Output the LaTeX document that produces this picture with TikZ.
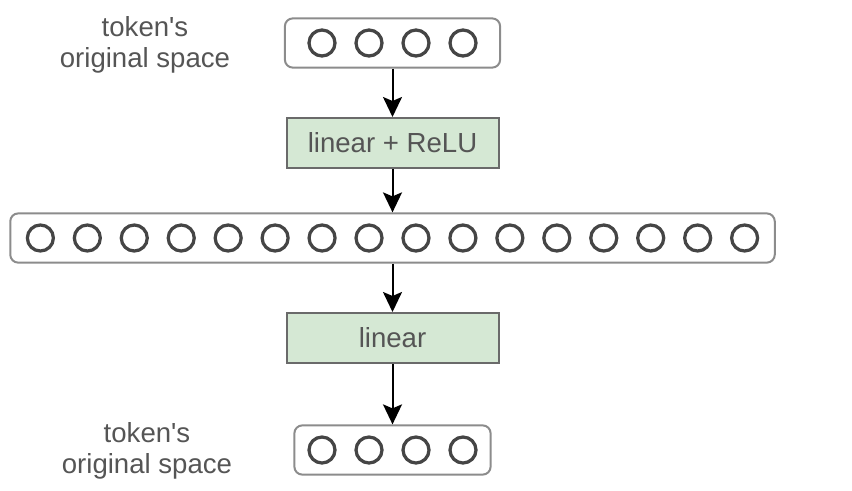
\documentclass[tikz,border=0pt]{standalone}
\usepackage{fontspec}
\setmainfont{Liberation Sans}
\usetikzlibrary{arrows.meta}
\usetikzlibrary{fit}
\usetikzlibrary{matrix}
\usetikzlibrary{positioning}

\definecolor{unitgray}{HTML}{454545}
\definecolor{boxgray}{HTML}{8C8C8C}
\definecolor{opedge}{HTML}{6A6A6A}
\definecolor{opfill}{HTML}{D5E8D4}
\definecolor{labelgray}{HTML}{555555}

\tikzset{
  unit/.style={circle,draw=unitgray,line width=0.065cm,minimum size=0.52cm,inner sep=0pt},
  units/.style={matrix of nodes,nodes={unit},column sep={0.94cm,between origins},anchor=center},
  layer/.style={draw=boxgray,line width=0.04cm,rounded corners=0.16cm,inner ysep=0.2cm},
  op/.style={draw=opedge,fill=opfill,line width=0.04cm,minimum width=4.24cm,minimum height=1cm,text=labelgray},
  spacelab/.style={align=center,text=labelgray},
  flow/.style={draw,line width=0.04cm,-{Stealth[length=0.4cm,width=0.38cm,inset=0.08cm]}},
}

\begin{document}
\begin{tikzpicture}[font=\fontsize{15.7}{17.6}\selectfont]

  \useasboundingbox (0,0) rectangle (17.04,9.8);

  % input tokens
  \matrix [units] at (7.85,8.94) {
    |(in1)| & |(in2)| & |(in3)| & |(in4)| \\
  };
  \node [layer,inner xsep=0.45cm,fit=(in1) (in4)] (inbox) {};
  \node [spacelab] (inlab) at (2.9,8.9) {token\textquotesingle s\\original space};

  \node [op] (relu) at (7.85,6.94) {linear + ReLU};

  % expanded hidden layer
  \matrix [units,column sep={0.939cm,between origins}] at (7.85,5.04) {
    |(h1)| & |(h2)| & |(h3)| & |(h4)| & |(h5)| & |(h6)| & |(h7)| & |(h8)| &
    |(h9)| & |(h10)| & |(h11)| & |(h12)| & |(h13)| & |(h14)| & |(h15)| & |(h16)| \\
  };
  \node [layer,inner xsep=0.31cm,fit=(h1) (h16)] (hidbox) {};

  \node [op] (lin) at (7.85,3.04) {linear};

  % output tokens
  \matrix [units] at (7.85,0.8) {
    |(out1)| & |(out2)| & |(out3)| & |(out4)| \\
  };
  \node [layer,inner xsep=0.26cm,fit=(out1) (out4)] (outbox) {};
  \node [spacelab] (outlab) at (2.94,0.78) {token\textquotesingle s\\original space};

  \path [flow]
    (inbox) edge (relu)
    (relu) edge (hidbox)
    (hidbox) edge (lin)
    (lin) edge (outbox);

\end{tikzpicture}
\end{document}
